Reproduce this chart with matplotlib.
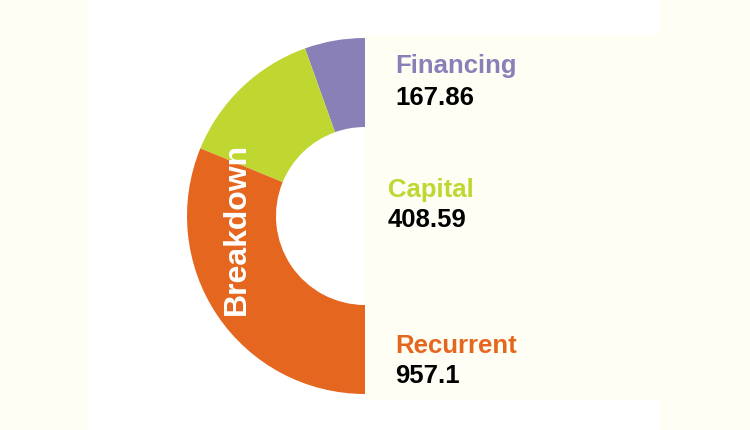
import matplotlib.pyplot as plt
from matplotlib.patches import Rectangle

# data
names = ['Financing', 'Capital', 'Recurrent']
values = [167.86, 408.59, 957.1]
value_labels = ['167.86', '408.59', '957.1']
colors = ['#8a80b8', '#bfd730', '#e5671f']

cream = '#fffef4'

plt.rcParams['font.family'] = ['Liberation Sans', 'DejaVu Sans']

fig = plt.figure(figsize=(7.5, 4.3), dpi=100, facecolor=cream)
ax = fig.add_axes([0, 0, 1, 1])

# half donut: hidden wedge takes the right half
total = sum(values)
wedges, _ = ax.pie(values + [total], colors=colors + ['none'],
                   startangle=90, counterclock=True,
                   center=(365, 214), radius=178,
                   wedgeprops=dict(width=89, linewidth=0))
wedges[-1].set_visible(False)
for w in wedges:
    w.set_zorder(3)

ax.set_xlim(0, 750)
ax.set_ylim(0, 430)
ax.set_aspect('equal')
ax.axis('off')

# background panels
ax.add_patch(Rectangle((89, 0), 570, 430, facecolor='white', edgecolor='none', zorder=0))
ax.add_patch(Rectangle((365, 30), 385, 365, facecolor=cream, edgecolor='none', zorder=1))

ax.text(237, 201, 'Breakdown', rotation=90, color='white', fontsize=23,
        fontweight='bold', ha='center', va='center', zorder=5)

# labels on the right
label_x = [395, 388, 395]
name_y = [357, 233, 77]
value_y = [325, 203, 47]
for i in range(len(names)):
    ax.text(label_x[i], name_y[i], names[i], color=colors[i], fontsize=18.5,
            fontweight='bold', va='baseline', zorder=5)
    ax.text(label_x[i], value_y[i], value_labels[i], color='black', fontsize=18.5,
            fontweight='bold', va='baseline', zorder=5)

fig.savefig('out.png', dpi=100, facecolor=cream)
